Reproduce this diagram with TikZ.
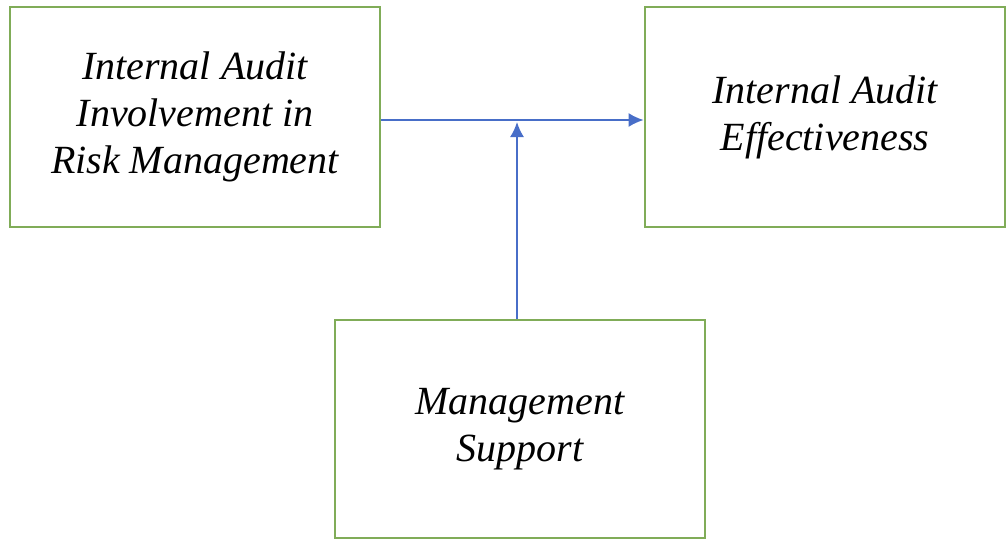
\documentclass[tikz,border=0pt]{standalone}
\usepackage{fontspec}
\setmainfont{Liberation Serif}
\usepackage{tikz}
\usetikzlibrary{arrows.meta,calc,positioning}
\definecolor{boxgreen}{RGB}{128,172,88}
\definecolor{linkblue}{RGB}{72,110,200}
\tikzset{box/.style={
            draw=boxgreen,
            line width=2.8pt,
            fill=white,
            inner sep=0pt,
            align=center,
            font=\fontsize{40}{47}\selectfont\itshape
        },
        link/.style={
            draw=linkblue,
            line width=1.8pt,
            >={Latex[length=15pt,width=14pt]}
        }
    }
\begin{document}
\begin{tikzpicture}[x=1pt,y=-1pt]
        \useasboundingbox (0,0) rectangle (1007,541);

        \node[box,minimum width=370pt,minimum height=220pt] (risk) at (195,117) {Internal Audit\\Involvement in\\Risk Management};
        \node[box,minimum width=360pt,minimum height=220pt] (eff) at (825,117) {Internal Audit\\Effectiveness};
        \node[box,minimum width=370pt,minimum height=218pt] (supp) at (520,429) {Management\\Support};

        \coordinate (join) at (517,120);
        \draw[link,->] (risk.east |- join) -- (eff.west |- join);
        \draw[link,->,shorten >=2pt] (join |- supp.north) -- (join);

    \end{tikzpicture}
\end{document}
